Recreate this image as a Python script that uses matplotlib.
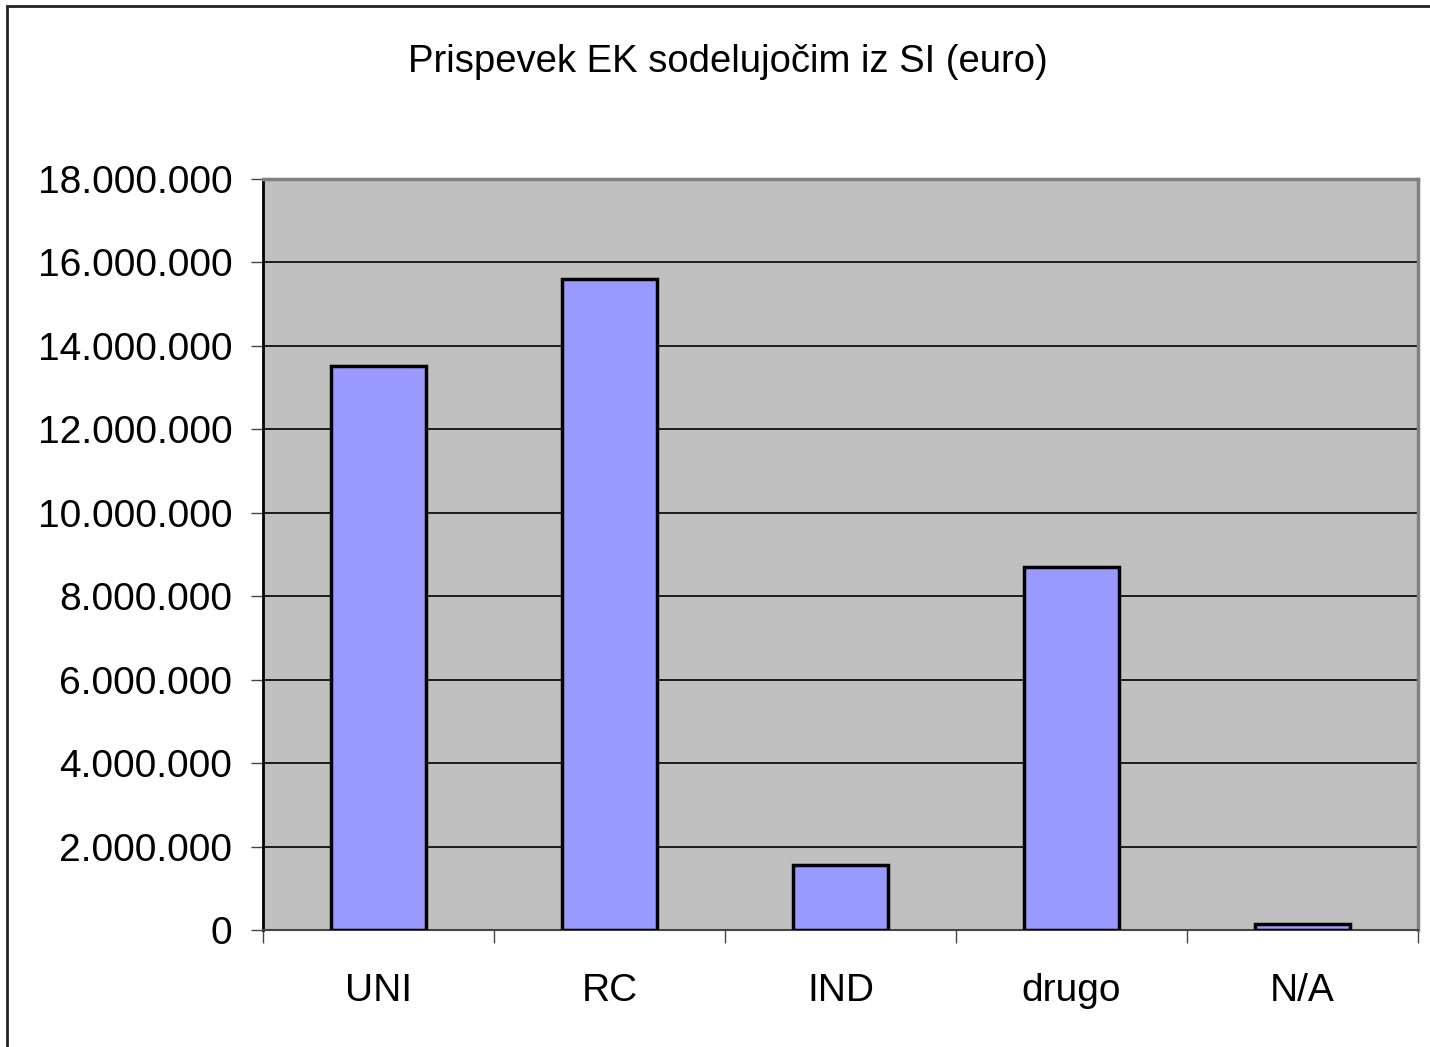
import numpy as np
import matplotlib
matplotlib.use("Agg")
from matplotlib import pyplot as plt
from matplotlib.patches import Rectangle
from matplotlib.ticker import FuncFormatter, FixedLocator

categories = ["UNI", "RC", "IND", "drugo", "N/A"]
values = [13520000, 15600000, 1560000, 8700000, 140000]
title = "Prispevek EK sodelujočim iz SI (euro)"

plt.rcParams['font.family'] = ['Liberation Sans', 'DejaVu Sans']

fig = plt.figure(figsize=(14.3, 10.47), dpi=100)
# outer chart frame
fig.patches.append(Rectangle((7 / 1430, -0.01), 1.1, 1 - 6 / 1047 + 0.01,
                             transform=fig.transFigure, fill=False,
                             edgecolor='#222222', linewidth=2))

ax = fig.add_axes([263 / 1430, 117 / 1047, 1155 / 1430, 751 / 1047])
ax.set_facecolor('#c0c0c0')

x = np.arange(len(categories))
ax.bar(x, values, width=0.41, color='#9999ff', edgecolor='black', linewidth=2.5, zorder=3)

ax.set_xlim(-0.5, len(categories) - 0.5)
ax.set_ylim(0, 18000000)
ax.set_yticks(np.arange(0, 18000001, 2000000))
ax.yaxis.set_major_formatter(FuncFormatter(lambda v, p: f"{int(v):,}".replace(",", ".")))
ax.grid(axis='y', color='black', linewidth=1.2, zorder=1)

# category ticks at boundaries, labels at centres
ax.xaxis.set_major_locator(FixedLocator(np.arange(-0.5, len(categories), 1.0)))
ax.xaxis.set_minor_locator(FixedLocator(x))
ax.set_xticklabels([])
ax.set_xticklabels(categories, minor=True)
ax.tick_params(axis='x', which='major', length=9, width=1, color='#444444')
ax.tick_params(axis='x', which='minor', length=0, pad=31, labelsize=28)
ax.tick_params(axis='y', length=9, width=1, color='#444444', labelsize=28, pad=13)

ax.spines['left'].set_color('black')
ax.spines['left'].set_linewidth(2)
ax.spines['bottom'].set_color('#444444')
ax.spines['bottom'].set_linewidth(1.5)
ax.spines['top'].set_color('#808080')
ax.spines['top'].set_linewidth(2.5)
ax.spines['right'].set_color('#808080')
ax.spines['right'].set_linewidth(2.5)

fig.text(728 / 1430, 1 - 62 / 1047, title, ha='center', va='center', fontsize=27.5)

plt.savefig('out.png', dpi=100)
